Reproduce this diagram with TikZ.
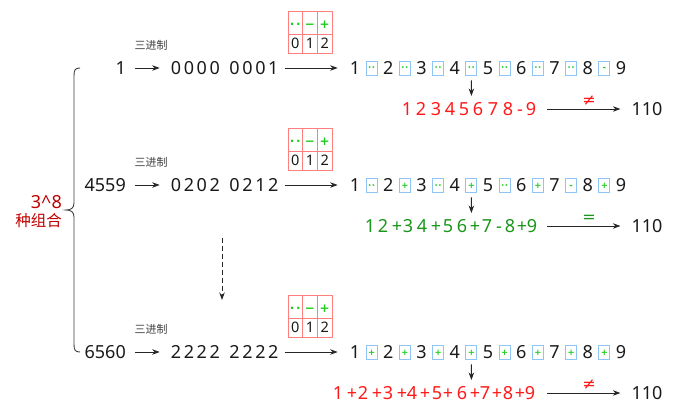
\documentclass[tikz,border=0pt]{standalone}
\usepackage{fontspec}
\setmainfont{Noto Sans}
\newfontfamily\cjk{Noto Sans CJK SC}
\newfontfamily\symf{DejaVu Sans}
\usetikzlibrary{arrows.meta}
\definecolor{rd}{HTML}{FF1A1A}
\definecolor{dred}{HTML}{C00000}
\definecolor{gr}{HTML}{1A961A}
\definecolor{lgr}{HTML}{1ECC1E}
\definecolor{tabred}{HTML}{FF7F7F}
\definecolor{boxblue}{HTML}{8EC5F5}
\definecolor{ink}{HTML}{1A1A1A}
\newcommand\opd{·\kern0.4pt·}
\newcommand\opp{+}
\newcommand\opm{-}
\tikzset{
  big/.style={font=\fontsize{18}{18}\selectfont, inner sep=0pt, text height=12.9pt, text depth=0pt, text=ink},
  smallcn/.style={font=\cjk\fontsize{11}{11}\selectfont, inner sep=0pt, text=black!75},
  arr/.style={-{Stealth[length=7.5pt,width=5.5pt]}, line width=0.9pt, draw=black!85},
  opbox/.style={draw=boxblue, line width=0.9pt, minimum width=11pt, minimum height=14pt, inner sep=0pt},
  opsym/.style={font=\symf\bfseries\fontsize{8.5}{8.5}\selectfont, text=lgr, inner sep=0pt, anchor=base},
  tabsym/.style={font=\symf\bfseries\fontsize{12}{12}\selectfont, text=lgr, inner sep=0pt, anchor=base},
  tabdig/.style={font=\fontsize{14.5}{14.5}\selectfont, inner sep=0pt, text height=10.4pt, text depth=0pt, text=ink},
  rel/.style={font=\symf\fontsize{16}{16}\selectfont, inner sep=0pt},
}
% #1 id, #2 row y, #3 number, #4 ternary digits, #5 ops, #6 result chars, #7 colour, #8 relation
\newcommand\Rowdraw[8]{%
\begin{scope}[shift={(0,#2)}]
  \node[big, anchor=east] (n#1) at (126,0) {#3};
  \foreach \d [count=\i] in {#4} {
    \node[big] (t#1-\i) at ({176+12.9*(\i-1)+7*(\i>4)},0) {\d};
  }
  \node[smallcn] (c#1) at (151,-23) {三进制};
  \draw[arr, shorten <=9pt, shorten >=11pt] (n#1.east) -- (t#1-1.west);
  % table
  \draw[tabred, line width=0.9pt] (288,-57) rectangle (332,-15);
  \draw[tabred, line width=0.9pt] (288,-34) -- (332,-34) (302.7,-57) -- (302.7,-15) (317.3,-57) -- (317.3,-15);
  \node[tabsym] (ta#1) at (295.3,-39.5) {·\kern1.5pt·};
  \node[tabsym] (tb#1) at (310,-39.5) {−};
  \node[tabsym] (tc#1) at (324.7,-39.5) {+};
  \node[tabdig] (td#1) at (295.3,-24.5) {0};
  \node[tabdig] (te#1) at (310,-24.5) {1};
  \node[tabdig] (tf#1) at (324.7,-24.5) {2};
  % sequence
  \foreach \i in {1,...,9} {
    \node[big] (s#1-\i) at ({355+33.25*(\i-1)},0) {\i};
  }
  \draw[arr, shorten <=6pt, shorten >=12pt] (t#1-8.east) -- (s#1-1.west);
  \foreach \o [count=\i] in {#5} {
    \node[opbox] (b#1-\i) at ({371.6+33.25*(\i-1)},0) {};
    \node[opsym] (o#1-\i) at ({371.6+33.25*(\i-1)},3) {\csname op\o\endcsname};
  }
  % result
  \coordinate (d#1) at (471.4,28);
  \draw[arr, shorten <=5pt] (b#1-4.south) -- (d#1);
  \foreach \x/\c [count=\k] in {#6} {
    \node[big, text=#7] (r#1-\k) at (\x,41) {\c};
  }
  \coordinate (ra#1) at (547,41);
  \node[big] (v#1) at (647,41) {110};
  \draw[arr, shorten >=11pt] (ra#1) -- (v#1.west)
     node[rel, text=#7, midway, above=3pt] (q#1) {#8};
\end{scope}}

\begin{document}
\begin{tikzpicture}[x=1pt,y=-1pt]
\useasboundingbox (0,0) rectangle (700,414);
\fill[white] (0,0) rectangle (700,414);

\Rowdraw{a}{68}{1}{0,0,0,0,0,0,0,1}{d,d,d,d,d,d,d,m}%
  {407/1,421/2,436/3,450/4,464/5,478/6,493/7,508/8,520/-,531/9}{rd}{≠}
\Rowdraw{b}{185}{4559}{0,2,0,2,0,2,1,2}{d,p,d,p,d,p,m,p}%
  {370/1,383/2,397/+,408/3,422/4,436/+,448/5,462/6,475/+,487/7,499/-,510/8,522/+,532/9}{gr}{=}
\Rowdraw{c}{352}{6560}{2,2,2,2,2,2,2,2}{p,p,p,p,p,p,p,p}%
  {338/1,352/+,363/2,377/+,388/3,402/+,412/4,425/+,437/5,448/+,462/6,475/+,485/7,497/+,508/8,520/+,530/9}{rd}{≠}

% dashed arrow between rows
\coordinate (da) at (222,238);
\coordinate (db) at (222,300);
\draw[arr, dashed, dash pattern=on 5pt off 3pt] (da) -- (db);

% brace
\draw[line width=0.9pt, black!75] (80,68) .. controls (75,68) and (74,70) .. (74,76)
  -- (74,203) .. controls (74,208) and (71,210) .. (66,210)
  .. controls (71,210) and (74,212) .. (74,217)
  -- (74,344) .. controls (74,350) and (75,352) .. (80,352);
\node[font=\fontsize{18}{18}\selectfont, text=dred, inner sep=0pt, anchor=east] (k1) at (62,202) {3\^{}8};
\node[font=\cjk\fontsize{15.5}{16}\selectfont, text=dred, inner sep=0pt, anchor=east] (k2) at (62,221) {种组合};
\end{tikzpicture}
\end{document}
